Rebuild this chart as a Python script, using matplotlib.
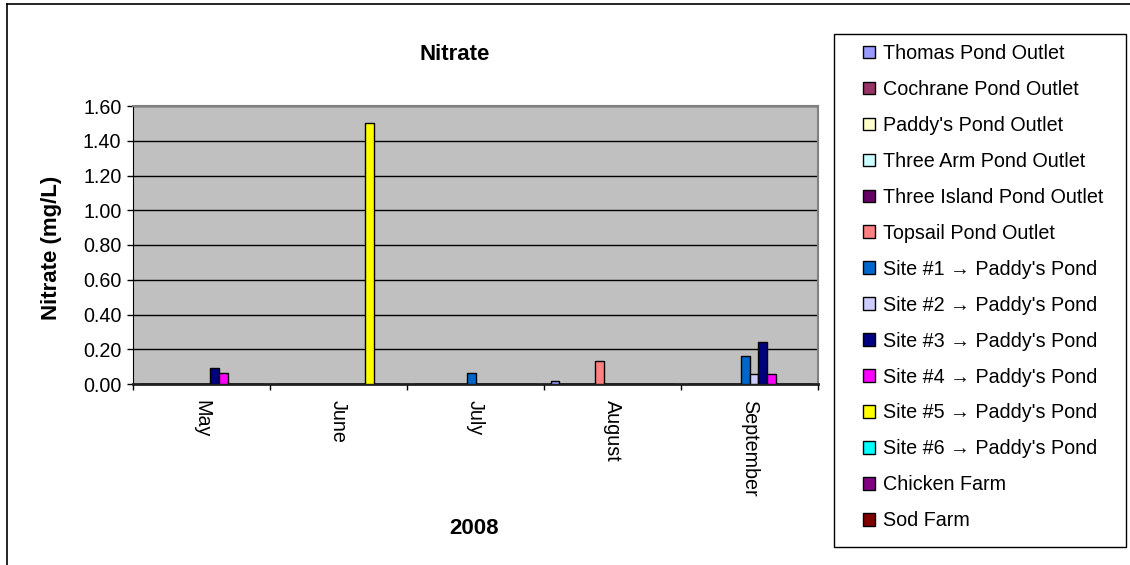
import matplotlib
matplotlib.use("Agg")
import matplotlib.pyplot as plt
import numpy as np
from matplotlib.lines import Line2D
from matplotlib.patches import Rectangle

plt.rcParams['font.family'] = ['Liberation Sans', 'DejaVu Sans']

months = ["May", "June", "July", "August", "September"]
series = [
    "Thomas Pond Outlet", "Cochrane Pond Outlet", "Paddy's Pond Outlet",
    "Three Arm Pond Outlet", "Three Island Pond Outlet", "Topsail Pond Outlet",
    "Site #1 \u2192 Paddy's Pond", "Site #2 \u2192 Paddy's Pond",
    "Site #3 \u2192 Paddy's Pond", "Site #4 \u2192 Paddy's Pond",
    "Site #5 \u2192 Paddy's Pond", "Site #6 \u2192 Paddy's Pond",
    "Chicken Farm", "Sod Farm",
]
colors = ["#9999FF", "#993366", "#FFFFCC", "#CCFFFF", "#660066", "#FF8080",
          "#0066CC", "#CCCCFF", "#000080", "#FF00FF", "#FFFF00", "#00FFFF",
          "#800080", "#800000"]

# values per series across months (NaN = no data)
nan = np.nan
thomas      = [nan, nan, nan, 0.02, nan]
cochrane    = [nan, nan, nan, nan, nan]
paddys      = [nan, nan, nan, nan, nan]
three_arm   = [nan, nan, nan, nan, nan]
three_isl   = [nan, nan, nan, nan, nan]
topsail     = [nan, nan, nan, 0.13, nan]
site1       = [nan, nan, 0.065, nan, 0.16]
site2       = [nan, nan, nan, nan, 0.06]
site3       = [0.09, nan, nan, nan, 0.24]
site4       = [0.065, nan, nan, nan, 0.06]
site5       = [nan, 1.50, nan, nan, nan]
site6       = [nan, nan, nan, nan, nan]
chicken     = [nan, nan, nan, nan, nan]
sod         = [nan, nan, nan, nan, nan]
values = [thomas, cochrane, paddys, three_arm, three_isl, topsail, site1,
          site2, site3, site4, site5, site6, chicken, sod]
yticks = [0.0, 0.2, 0.4, 0.6, 0.8, 1.0, 1.2, 1.4, 1.6]

W, H = 1130, 565
fig = plt.figure(figsize=(W / 100, H / 100), dpi=100)
FS = 14.2
FSB = 16

ax = fig.add_axes([133 / W, 1 - 384 / H, 685 / W, 278 / H])
ax.set_facecolor("#C0C0C0")

n = len(series)
w = 1.0 / (n + 1.5)
x = np.arange(len(months))
handles = []
for j, (name, vals, c) in enumerate(zip(series, values, colors)):
    b = ax.bar(x + (j - (n - 1) / 2) * w, np.nan_to_num(vals), width=w,
               color=c, edgecolor="black", linewidth=1.0, label=name, zorder=3)
    handles.append(b)

ax.set_xlim(-0.5, len(months) - 0.5)
ax.set_ylim(0, 1.6)
ax.set_yticks(yticks)
ax.set_yticklabels([f"{v:.2f}" for v in yticks], fontsize=FS)
ax.yaxis.grid(True, color="black", linewidth=1.0, zorder=1)
ax.set_axisbelow(True)
ax.tick_params(axis="y", direction="out", length=4.3, width=1, pad=4, color="black")

ax.set_xticks(np.arange(-0.5, len(months), 1.0))
ax.set_xticklabels([])
ax.set_xticks(x, minor=True)
ax.set_xticklabels(months, minor=True, rotation=270, fontsize=FS, va="top", ha="center")
ax.tick_params(axis="x", which="major", direction="out", length=4.3, width=1, color="black")
ax.tick_params(axis="x", which="minor", length=0, pad=11.5)

for s in ["top", "right"]:
    ax.spines[s].set_color("#808080")
    ax.spines[s].set_linewidth(1.5)
ax.spines["left"].set_color("black")
ax.spines["bottom"].set_color("#202020")
ax.spines["bottom"].set_linewidth(2)

fig.text(455 / W, 1 - 55 / H, "Nitrate", fontsize=FSB, fontweight="bold",
         ha="center", va="center")
fig.text(52 / W, 1 - 248 / H, "Nitrate (mg/L)", fontsize=FSB, fontweight="bold",
         ha="center", va="center", rotation=90)
fig.text(474 / W, 1 - 528 / H, "2008", fontsize=FSB, fontweight="bold",
         ha="center", va="center")

# chart area border (top and left visible)
fig.add_artist(Line2D([7 / W, 1.0], [1 - 4 / H, 1 - 4 / H], color="black", linewidth=1.2))
fig.add_artist(Line2D([7 / W, 7 / W], [0, 1 - 4 / H], color="black", linewidth=1.2))

# legend frame
fig.add_artist(Rectangle((834 / W, 1 - 547 / H), (1126 - 834) / W, (547 - 34) / H,
                         transform=fig.transFigure, facecolor="white",
                         edgecolor="black", linewidth=1.0))
leg = fig.legend(handles=handles, loc="upper left",
                 bbox_to_anchor=(855 / W, 1 - 36 / H), frameon=False,
                 fontsize=FS, handlelength=0.6, handleheight=0.6,
                 handletextpad=0.4, labelspacing=0.86, borderpad=0.4,
                 borderaxespad=0)
leg.set_zorder(5)

fig.savefig("out.png", dpi=100, facecolor="white")
